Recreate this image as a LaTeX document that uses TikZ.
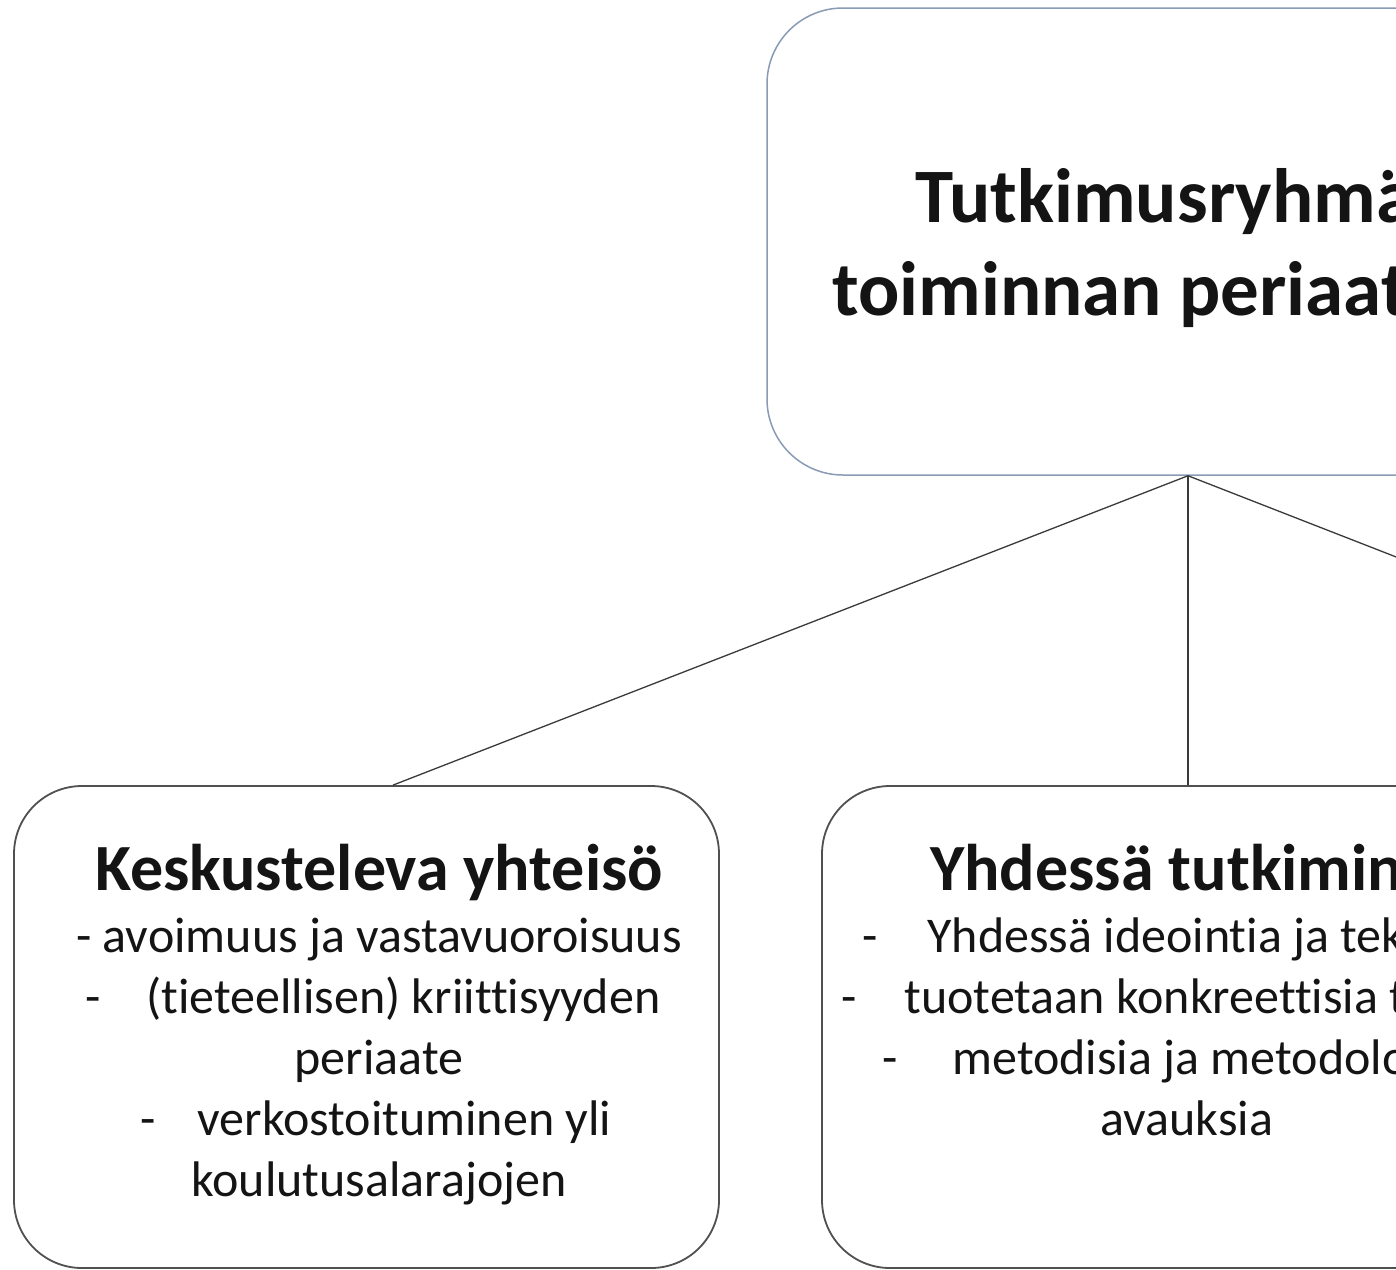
\documentclass[tikz,border=0pt]{standalone}
\usepackage{fontspec}
\setmainfont{Carlito}[Ligatures={NoCommon}]
\definecolor{topline}{HTML}{8A9BB5}
\definecolor{boxline}{HTML}{505050}
\definecolor{conline}{HTML}{3A3A3A}
\definecolor{txt}{HTML}{141414}
\begin{document}
\begin{tikzpicture}[x=1pt,y=-1pt,
  topbox/.style={draw=topline,line width=1.5pt,rounded corners=76pt,minimum width=842pt,minimum height=467pt,inner sep=0pt},
  subbox/.style={draw=boxline,line width=1.8pt,rounded corners=68pt,minimum width=705pt,minimum height=482pt,inner sep=0pt},
  conn/.style={draw=conline,line width=1.3pt},
  bigtitle/.style={anchor=base west,inner sep=0pt,text=txt,font=\fontsize{77}{93}\selectfont\bfseries},
  subtitle/.style={anchor=base west,inner sep=0pt,text=txt,font=\fontsize{66}{80}\selectfont\bfseries},
  bodyline/.style={anchor=base west,inner sep=0pt,text=txt,font=\fontsize{50}{61}\selectfont},
  bodymid/.style={bodyline,anchor=base},
]
\useasboundingbox (0,0) rectangle (1396,1269);
\clip (0,0) rectangle (1396,1269);
\fill[white] (0,0) rectangle (1396,1269);

\node[topbox] (top) at (1188,241.5) {};
\node[subbox] (kbox) at (366.5,1027) {};
\node[subbox] (ybox) at (1174.5,1027) {};
\coordinate (rbox) at (1983,786);

\draw[conn] (top.south) -- ([xshift=26.5pt]kbox.north);
\draw[conn] (top.south) -- ([xshift=13.5pt]ybox.north);
\draw[conn] (top.south) -- (rbox);

\node[bigtitle] (t1) at (915,222) {Tutkimusryhmän};
\node[bigtitle] (t2) at (832,315) {toiminnan periaatteet};

\node[subtitle] (k0) at (95,890) {Keskusteleva yhteisö};
\node[bodyline] (k1) at (76,952) {- avoimuus ja vastavuoroisuus};
\node[bodyline] (k2) at (85,1013) {-\hspace{46pt}(tieteellisen) kriittisyyden};
\node[bodymid] (k3) at (379,1074) {periaate};
\node[bodyline] (k4) at (140,1135) {-\hspace{42pt}verkostoituminen yli};
\node[bodymid] (k5) at (379,1196) {koulutusalarajojen};

\node[subtitle] (y0) at (930,890) {Yhdessä tutkiminen};
\node[bodyline] (y1) at (862,952) {-\hspace{50pt}Yhdessä ideointia ja tekemistä};
\node[bodyline] (y2) at (841,1013) {-\hspace{48pt}tuotetaan konkreettisia tuloksia};
\node[bodyline] (y3) at (882,1074) {-\hspace{55pt}metodisia ja metodologisia};
\node[bodymid] (y4) at (1187,1135) {avauksia};
\end{tikzpicture}
\end{document}
